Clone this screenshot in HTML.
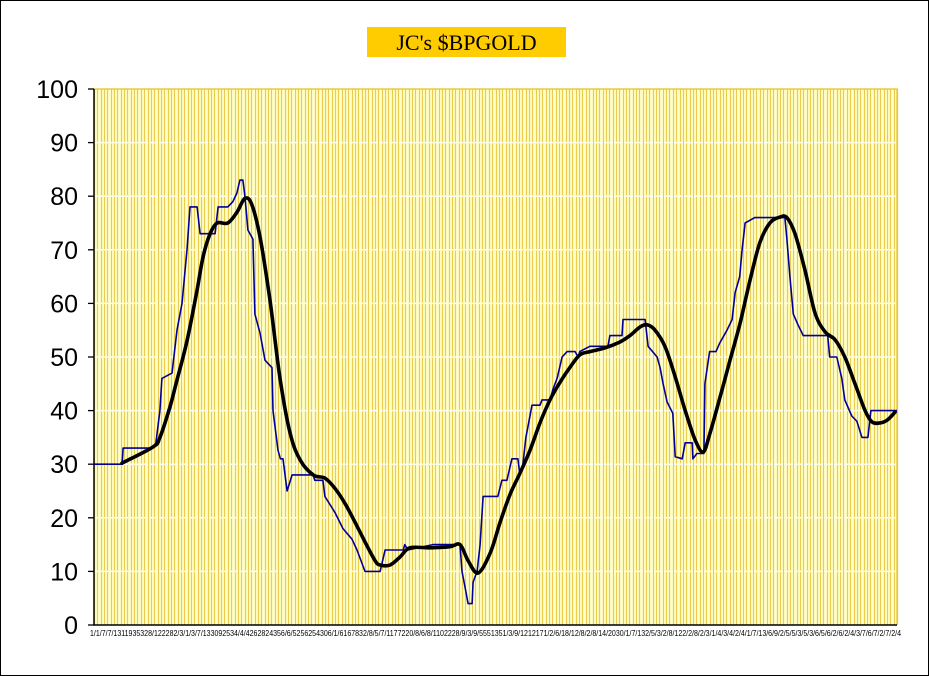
<!DOCTYPE html>
<html><head><meta charset="utf-8"><style>
html,body{margin:0;padding:0;background:#fff;}
svg{display:block;font-family:"Liberation Sans",sans-serif;}
</style></head><body>
<svg id="chart" width="929" height="676" viewBox="0 0 929 676">
<rect x="0.5" y="0.5" width="928" height="675" fill="#fff" stroke="#000"/>
<rect x="367" y="27" width="199" height="30" fill="#FFCC00"/>
<text x="466.5" y="50" text-anchor="middle" font-family="Liberation Serif, serif" font-size="22" fill="#000">JC's $BPGOLD</text>
<g id="plot"></g>
</svg>
<script>
const yTicks=[0,10,20,30,40,50,60,70,80,90,100];
const nCategories=241;
const blueIdx=[0,8.4,8.7,17.6,18.5,19.7,20.3,23.3,24.8,26.3,27.8,28.7,30.8,31.7,36.2,37.1,40,41.5,42.7,43.6,44.5,45.1,46,47.5,48.1,49.6,51.1,53.2,53.5,55,55.7,56.5,57.7,59.2,65.5,66,68.4,69,72,74.4,77.1,78.6,81,85.5,87,92.4,92.9,93.8,101.3,109.4,110,110.9,111.8,113,113.3,114.5,115.4,116.3,120.7,121.9,123.4,124.9,126.7,127.3,128.2,129.1,130.9,133.3,133.9,136.3,137.2,138.4,139.9,141.4,143.8,144.7,145.2,148.2,153.6,154.2,157.8,158.1,164.7,165.6,168.3,169.2,170.1,171.3,173,173.7,175.8,176.7,178.8,179,180.2,182.3,182.6,184,185.9,187,189.2,190.7,191.6,193,193.7,194.6,197.5,206.5,207.1,208,209,210.4,212,219.3,219.9,222,223.5,224.4,226.5,228,229.5,231.3,232.2,240];
const blueVal=[30,30,33,33,34,40,46,47,55,60,70,78,78,73,73,78,78,79,80.6,83,83,80,73.7,72,58,54.5,49.4,48,40,32.6,31,31,25,28,28,27,27,24,21,18,16,14,10,10,14,14,15,14,15,15,10,7,4,4,8,10,15,24,24,27,27,31,31,28,30,35,41,41,42,42,44,46,50,51,51,50,51,52,52,54,54,57,57,52,50,48,45,41.6,39.5,31.4,31,34,34,31,32,32,45,51,51,52.6,55,57,62,65,70,75,76,76,72,65,58,56,54,54,50,50,46,42,39,38,35,35,40,40];
const blackIdx=[8.4,17.6,19.7,22.7,24.8,27.8,30.8,32.6,34.7,36.8,40,42.7,45.1,47.2,49.6,52.6,55.6,58.6,61.6,65.5,69,72,75,78,81,84,85.5,88.5,91.5,94.4,100.4,106.4,109.4,111.8,114.8,118.4,121.3,124.3,127.3,130.3,133.3,136.3,139.3,142.3,145.2,148.2,152.7,157.2,160.2,163.2,165.3,167.7,170.7,173.7,176.7,179.7,182.1,184.1,187.1,190.1,193.1,196.1,199,202,205,207.1,209.5,212.5,215.5,218.5,221.5,224.4,227.4,230.4,232.5,234.9,237,239.4];
const blackVal=[30.2,33.2,35,40.7,45.7,53,62.5,68.7,73,75,75,77,79.6,78.4,72.4,60.6,46,35.8,30.8,28,27.4,25.5,22.7,19.2,15.5,12,11.2,11.2,12.7,14.4,14.4,14.6,15,12,9.7,13.4,19,24.3,28.3,32.6,37.7,42,45.3,48.1,50.4,51,51.7,52.8,54,55.6,56,55,51.9,46.3,40,34.5,32.3,35.8,42.5,49.4,56.3,64.4,71.3,75,76.1,76,73,66.2,58.2,54.7,53.2,50,45.1,40.1,37.9,37.7,38.2,39.7];
const xLabelText="1/1/7/7/1311935328/122282/3/1/3/7/133092534/4/4262824356/6/5256254306/1/6167832/8/5/7/1177220/8/6/8/1102228/9/3/9/5551351/3/9/1212171/2/6/18/12/8/2/8/14/2030/1/7/132/5/3/2/8/122/2/8/2/3/1/4/3/4/2/4/1/7/13/6/9/2/5/5/3/5/3/6/5/6/2/6/2/4/3/7/6/7/2/7/2/4";
const L=94,R=897,T=89,B=625;
const xs=i=>L+i*(R-L)/(nCategories-1);
const ys=v=>B-v*(B-T)/100;
const NS="http://www.w3.org/2000/svg";
const g=document.getElementById('plot');
function mk(tag,attrs){const e=document.createElementNS(NS,tag);for(const k in attrs)e.setAttribute(k,attrs[k]);g.appendChild(e);return e;}
const bg=mk('rect',{x:L,y:T,width:R-L,height:B-T,fill:'#FFFFCC'});


let d='';
for(let i=0;i<nCategories;i++){const x=Math.round(xs(i))+0.5;d+='M'+x+' '+T+'V'+B;}
const vg=mk('path',{d:d,stroke:'#EBCB50','stroke-width':1.2});


yTicks.forEach(t=>{
  const y=ys(t);
  if(t>0&&t<100){const h=mk('line',{x1:L,x2:R,y1:y,y2:y,stroke:'#FFFFF0','stroke-width':1.5,'stroke-dasharray':'4 1'});
  
  }
  const tk=mk('line',{x1:L-6,x2:L,y1:y,y2:y,stroke:'#000','stroke-width':1.3});
  
  
  const lb=mk('text',{x:78,y:y+9,'text-anchor':'end','font-size':25,fill:'#000'});
  lb.textContent=t;
  
  
});
const tb=mk('path',{d:`M${L} ${T}H${R}V${B}`,fill:'none',stroke:'#E8C020','stroke-width':1.2});


const ax=mk('path',{d:`M${L} ${T}V${B}H${R}`,fill:'none',stroke:'#000','stroke-width':1.5});


let bp=blueIdx.map((i,k)=>xs(i).toFixed(1)+','+ys(blueVal[k]).toFixed(1)).join(' ');
const bl=mk('polyline',{points:bp,fill:'none',stroke:'#000099','stroke-width':1.6,'stroke-linejoin':'round'});


const P=blackIdx.map((i,k)=>[xs(i),ys(blackVal[k])]);
let kd='M'+P[0][0].toFixed(1)+' '+P[0][1].toFixed(1);
for(let k=0;k<P.length-1;k++){
  const p0=P[Math.max(0,k-1)],p1=P[k],p2=P[k+1],p3=P[Math.min(P.length-1,k+2)];
  const c1=[p1[0]+(p2[0]-p0[0])/6,p1[1]+(p2[1]-p0[1])/6];
  const c2=[p2[0]-(p3[0]-p1[0])/6,p2[1]-(p3[1]-p1[1])/6];
  kd+=`C${c1[0].toFixed(1)} ${c1[1].toFixed(1)} ${c2[0].toFixed(1)} ${c2[1].toFixed(1)} ${p2[0].toFixed(1)} ${p2[1].toFixed(1)}`;
}
const kl=mk('path',{d:kd,fill:'none',stroke:'#000','stroke-width':3.6,'stroke-linejoin':'round','stroke-linecap':'round'});


const xl=mk('text',{x:L-4,y:636,'font-size':8,fill:'#000',textLength:R-L+8,lengthAdjust:'spacingAndGlyphs'});
xl.textContent=xLabelText;


</script>
</body></html>
